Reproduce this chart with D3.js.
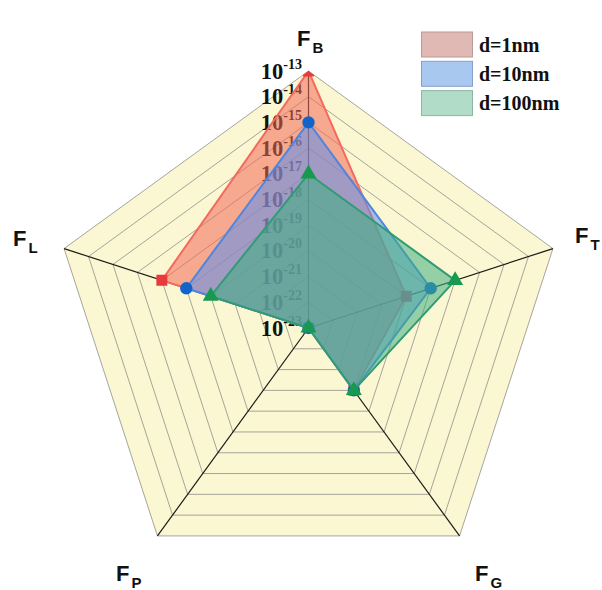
<!DOCTYPE html>
<html>
<head>
<meta charset="utf-8">
<script src="https://cdn.jsdelivr.net/npm/d3@7"></script>
<style>
  html, body { margin: 0; padding: 0; background: #ffffff; }
  svg { display: block; }
</style>
</head>
<body>
<div id="chart"></div>
<script>
// Force components on each axis (N), plotted on a log scale
const axes = [
  { name: "F", sub: "B" },
  { name: "F", sub: "T" },
  { name: "F", sub: "G" },
  { name: "F", sub: "P" },
  { name: "F", sub: "L" }
];
const seriesNames = ["d=1nm", "d=10nm", "d=100nm"];
const values1nm   = [1e-13, 1e-19, 1e-20, 1e-23, 1e-17];
const values10nm  = [1e-15, 1e-18, 1e-20, 1e-23, 1e-18];
const values100nm = [1e-17, 1e-17, 1e-20, 1e-23, 1e-19];
const tickExponents = [-13, -14, -15, -16, -17, -18, -19, -20, -21, -22, -23];

const W = 602, H = 590;
const cx = 308.5, cy = 328, R = 257;

const svg = d3.select("#chart").append("svg")
  .attr("width", W).attr("height", H);

const r = d3.scaleLog().domain([1e-23, 1e-13]).range([0, R]);
const angle = i => (-90 + i * 72) * Math.PI / 180;
const pt = (i, rad) => [cx + rad * Math.cos(angle(i)), cy + rad * Math.sin(angle(i))];

const levels = tickExponents.map(e => Math.pow(10, e)).filter(v => v > 1e-23);
const ring = v => axes.map((a, i) => pt(i, r(v)));
const line = d3.line().curve(d3.curveLinearClosed);

// clip everything drawn for the series to the outer pentagon
svg.append("clipPath").attr("id", "outer")
  .append("path").attr("d", line(ring(1e-13)));

// background
svg.append("path")
  .attr("d", line(ring(1e-13)))
  .attr("fill", "#fbf7d2");

// grid rings
svg.append("g").selectAll("path").data(levels).join("path")
  .attr("d", v => line(ring(v)))
  .attr("fill", "none")
  .attr("stroke", "#9c9b94")
  .attr("stroke-width", 0.9);

// spokes
svg.append("g").selectAll("line").data(axes).join("line")
  .attr("x1", cx).attr("y1", cy)
  .attr("x2", (d, i) => pt(i, R)[0])
  .attr("y2", (d, i) => pt(i, R)[1])
  .attr("stroke", "#1a1a1a")
  .attr("stroke-width", 1.2);

// tick labels along the F_B axis
const tl = svg.append("g")
  .attr("font-family", "'Liberation Serif', 'Times New Roman', serif")
  .attr("font-weight", "bold")
  .attr("fill", "#111");
tickExponents.forEach(e => {
  const y = cy - r(Math.pow(10, e));
  const t = tl.append("text")
    .attr("x", 302).attr("y", y + 7.5)
    .attr("text-anchor", "end");
  t.append("tspan").attr("font-size", 22.5).text("10");
  t.append("tspan").attr("font-size", 14).attr("dy", -10).text("-" + Math.abs(e));
});

// series
const series = [
  { name: seriesNames[0], values: values1nm,   fill: "#f26a58", stroke: "#f46a5e", marker: "#e83a3a", symbol: d3.symbolSquare,   size: 120 },
  { name: seriesNames[1], values: values10nm,  fill: "#5b8ff0", stroke: "#4f86df", marker: "#1463c9", symbol: d3.symbolCircle,   size: 120 },
  { name: seriesNames[2], values: values100nm, fill: "#3fae80", stroke: "#2f9c74", marker: "#17994f", symbol: d3.symbolTriangle, size: 110 }
];

const sg = svg.append("g").attr("clip-path", "url(#outer)");
series.forEach(s => {
  const pts = s.values.map((v, i) => pt(i, r(v)));
  const g = sg.append("g");
  g.append("path")
    .attr("d", line(pts))
    .attr("fill", s.fill)
    .attr("fill-opacity", 0.55)
    .attr("stroke", s.stroke)
    .attr("stroke-width", 2)
    .attr("stroke-linejoin", "round");
  g.selectAll("path.mk").data(pts).join("path")
    .attr("class", "mk")
    .attr("transform", d => `translate(${d[0]},${d[1]})`)
    .attr("d", d3.symbol().type(s.symbol).size(s.size))
    .attr("fill", s.marker);
});

// axis titles
const titlePos = [
  { x: 297, y: 46 },
  { x: 575, y: 243 },
  { x: 475, y: 581 },
  { x: 116, y: 581 },
  { x: 13,  y: 246 }
];
const at = svg.append("g")
  .attr("font-family", "'Liberation Sans', Arial, sans-serif")
  .attr("font-weight", "bold")
  .attr("fill", "#111");
axes.forEach((a, i) => {
  const t = at.append("text").attr("x", titlePos[i].x).attr("y", titlePos[i].y);
  t.append("tspan").attr("font-size", 22).text(a.name);
  t.append("tspan").attr("font-size", 15).attr("dx", 2).attr("dy", 7).text(a.sub);
});

// legend
const legendFill = ["#e0b9b5", "#a9c8ef", "#b1dcc7"];
const legendStroke = ["#b89a97", "#86a2c8", "#8fb5a4"];
const lg = svg.append("g");
seriesNames.forEach((n, i) => {
  const y = 32 + i * 29.3;
  lg.append("rect")
    .attr("x", 421.5).attr("y", y).attr("width", 51).attr("height", 25)
    .attr("fill", legendFill[i]).attr("stroke", legendStroke[i]).attr("stroke-width", 1);
  lg.append("text")
    .attr("x", 479).attr("y", y + 19.5)
    .attr("font-family", "'Liberation Serif', 'Times New Roman', serif")
    .attr("font-weight", "bold")
    .attr("font-size", 20)
    .attr("fill", "#111")
    .text(n);
});
</script>
</body>
</html>
